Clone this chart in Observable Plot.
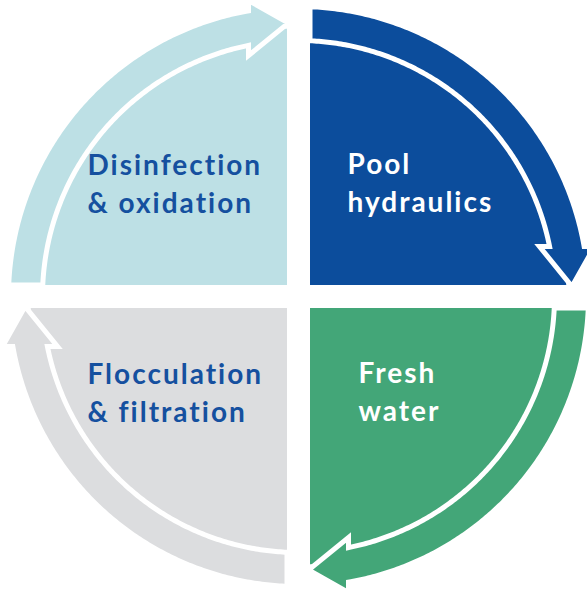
<!DOCTYPE html>
<html><head><meta charset="utf-8">
<script src="https://cdn.jsdelivr.net/npm/d3@7"></script>
<script src="https://cdn.jsdelivr.net/npm/@observablehq/plot@0.6"></script>
<style>
html,body{margin:0;padding:0;background:#fff;overflow:hidden;}
#chart svg text{letter-spacing:2px;}
</style>
</head><body><div id="chart"></div>
<script>
// ---- data ----
const stages = ["Pool\nhydraulics", "Fresh\nwater", "Flocculation\n& filtration", "Disinfection\n& oxidation"];
const startAngles = [0, 90, 180, 270];          // compass start of each quarter; arrows run clockwise
const fillColors = ["#0c4d9c", "#43a678", "#dcdddf", "#bde0e5"];
const textColors = ["#ffffff", "#ffffff", "#15509f", "#15509f"];

// ---- layout (pixels relative to the circle centre) ----
const labelOffsets = [[49, -149], [60, 60], [-211, 61], [-211, -148]];
const G = 11.5, RS = 268, RO = 290, RI = 256, BASE = 50, WING_OUT = 296, WING_IN = 241, TIP = [-10, -273.5];

const rad = a => a * Math.PI / 180, deg = a => a * 180 / Math.PI;
const pt = (a, r) => [r * Math.sin(rad(a)), -r * Math.cos(rad(a))];
function arc(r, a0, a1) {
  const n = Math.max(2, Math.ceil(Math.abs(a1 - a0) * 2));
  return d3.range(n + 1).map(i => pt(a0 + (a1 - a0) * i / n, r));
}
function slicePts() {
  const d = deg(Math.asin(G / RS));
  return [[-G, -G], ...arc(RS, -90 + d, -d), [-G, -G]];
}
function bandPts() {
  const outer = arc(RO, -90 + deg(Math.asin(G / RO)), -deg(Math.asin(BASE / RO)));
  const inner = arc(RI, -deg(Math.asin(BASE / RI)), -90 + deg(Math.asin(G / RI)));
  const p = [...outer, [-BASE, -WING_OUT], TIP, [-BASE, -WING_IN], ...inner];
  p.push(p[0]);
  return p;
}
const rotate = ([x, y], a) => [x * Math.cos(rad(a)) - y * Math.sin(rad(a)), x * Math.sin(rad(a)) + y * Math.cos(rad(a))];

const sliceRows = [], bandRows = [];
startAngles.forEach((s, i) => {
  const phi = s - 270;
  slicePts().forEach(p => { const [x, y] = rotate(p, phi); sliceRows.push({id: i, x, y, fill: fillColors[i]}); });
  bandPts().forEach(p => { const [x, y] = rotate(p, phi); bandRows.push({id: i, x, y, fill: fillColors[i]}); });
});
const labels = stages.map((t, i) => ({text: t, x: labelOffsets[i][0], y: labelOffsets[i][1], color: textColors[i]}));

const plot = Plot.plot({
  width: 587, height: 589, margin: 0,
  x: {domain: [-298, 289], axis: null},
  y: {domain: [-296, 293], reverse: true, axis: null},
  color: {type: "identity"},
  marks: [
    Plot.line(sliceRows, {x: "x", y: "y", z: "id", fill: "fill", stroke: "none", curve: "linear"}),
    Plot.line(bandRows, {x: "x", y: "y", z: "id", fill: "fill", stroke: "white", strokeWidth: 5,
      strokeLinejoin: "miter", strokeMiterlimit: 4, curve: "linear"}),
    Plot.text(labels, {x: "x", y: "y", text: "text", fill: "color", textAnchor: "start", lineAnchor: "top",
      fontSize: 28, fontWeight: 700, lineHeight: 1.357, fontFamily: "Lato"})
  ]
});
document.getElementById("chart").appendChild(plot);
</script>
</body></html>
